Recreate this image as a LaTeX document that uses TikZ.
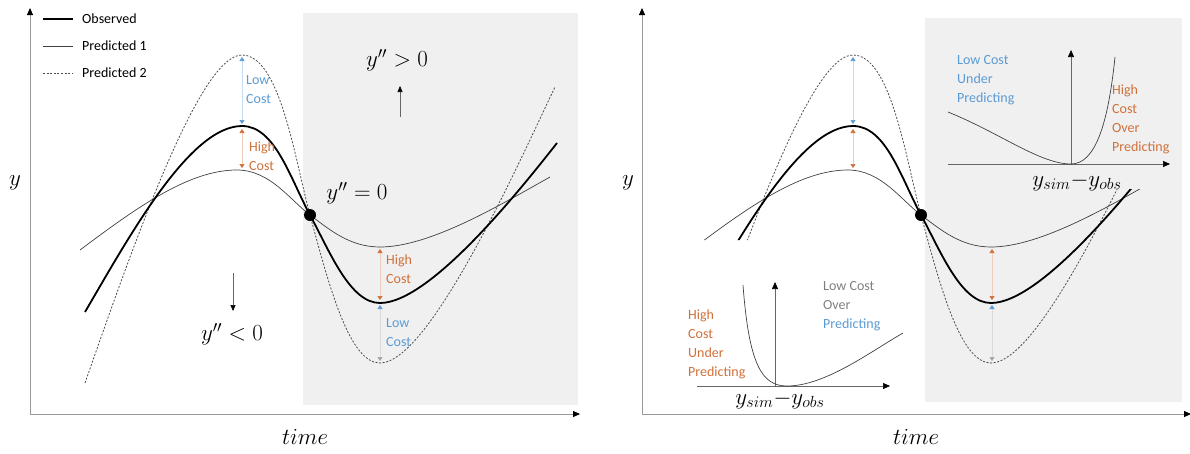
\RequirePackage{fix-cm}
\documentclass[tikz,border=0pt]{standalone}
\usepackage[no-math]{fontspec}
\setmainfont{Carlito}
\usepackage{tikz}
\usetikzlibrary{arrows.meta,positioning}

\definecolor{costhigh}{HTML}{D0703A}
\definecolor{costlow}{HTML}{5B9BD5}
\definecolor{panelgray}{HTML}{F0F0F0}
\definecolor{axisgray}{HTML}{9A9A9A}

% the three series (same shape in both panels)
\newcommand{\curveobs}{(85,312) .. controls (130,235) and (190,126) .. (242,126)
  .. controls (275,126) and (290,178) .. (310,215)
  .. controls (330,252) and (350,303) .. (380,303)
  .. controls (430,303) and (520,190) .. (557,143)}
\newcommand{\curveone}{(80,250) .. controls (140,205) and (190,170) .. (237,170)
  .. controls (270,170) and (290,200) .. (310,215)
  .. controls (330,230) and (350,247) .. (380,247)
  .. controls (430,247) and (500,205) .. (550,177)}
\newcommand{\curvetwo}{(85,383) .. controls (135,240) and (200,55) .. (242,55)
  .. controls (280,55) and (295,160) .. (310,215)
  .. controls (330,290) and (350,363) .. (380,363)
  .. controls (430,363) and (520,160) .. (555,87)}

\tikzset{
  obs/.style={line width=1.8pt, black},
  predone/.style={line width=0.7pt, black!75},
  predtwo/.style={line width=0.8pt, black!70, dash pattern=on 2pt off 1.6pt},
  axis/.style={draw=axisgray, line width=0.8pt, -{Triangle[length=7pt,width=6pt,color=black]}},
  insetaxis/.style={draw=black!60, line width=0.6pt, -{Triangle[length=7pt,width=6pt,color=black]}},
  thinarr/.style={draw=black!60, line width=0.6pt, -{Triangle[length=6pt,width=5pt,color=black]}},
  higharr/.style={line width=0.6pt, draw=costhigh!35,
    {Triangle[length=4pt,width=5pt,color=costhigh]}-{Triangle[length=4pt,width=5pt,color=costhigh]}},
  lowarr/.style={line width=0.6pt, draw=costlow!35,
    {Triangle[length=4pt,width=5pt,color=costlow]}-{Triangle[length=4pt,width=5pt,color=costlow]}},
  lowdownarr/.style={line width=0.6pt, draw=gray!30,
    {Triangle[length=4pt,width=5pt,color=costlow]}-{Triangle[length=4pt,width=5pt,color=gray!70]}},
  lbl/.style={font=\fontsize{14}{19}\selectfont, align=left, anchor=west, inner sep=0pt},
  legendlbl/.style={font=\fontsize{14}{16}\selectfont, anchor=west, inner sep=0pt},
  bigmath/.style={font=\fontsize{23}{26}\selectfont, inner sep=1pt},
  dot/.style={circle, fill=black, inner sep=0pt, minimum size=12pt},
}

\begin{document}
\begin{tikzpicture}[x=1pt, y=-1pt]
\useasboundingbox (0,0) rectangle (1190,453);

% shaded halves (y''>0)
\fill[panelgray] (303,13) rectangle (578,405);
\fill[panelgray] (925,18) rectangle (1182,402);

%%% left panel
\coordinate (lo) at (30,414);
\coordinate (ly) at (30,8);
\coordinate (lx) at (580,414);
\draw[axis] (lo) -- (ly);
\draw[axis] (lo) -- (lx);
\node[bigmath] (lylab) at (15,183) {$y$};
\node[bigmath] (lxlab) at (305,437) {$time$};

% legend
\coordinate (lg1a) at (43,19); \coordinate (lg1b) at (73,19);
\coordinate (lg2a) at (43,46); \coordinate (lg2b) at (73,46);
\coordinate (lg3a) at (43,73); \coordinate (lg3b) at (73,73);
\draw[obs] (lg1a) -- (lg1b);
\draw[predone] (lg2a) -- (lg2b);
\draw[predtwo] (lg3a) -- (lg3b);
\node[legendlbl, right=9pt of lg1b] (lgobs) {Observed};
\node[legendlbl, right=9pt of lg2b] (lgpone) {Predicted 1};
\node[legendlbl, right=9pt of lg3b] (lgptwo) {Predicted 2};

% curves
\draw[predtwo] \curvetwo;
\draw[predone] \curveone;
\draw[obs] \curveobs;
\node[dot] (ldot) at (310,215) {};
\node[bigmath] (lzero) at (357,193) {$y''=0$};

% cost arrows at the peak
\coordinate (lpktwo) at (242,57);
\coordinate (lpkobsa) at (242,124);
\coordinate (lpkobsb) at (242,129);
\coordinate (lpkone) at (242,168);
\draw[lowarr] (lpktwo) -- (lpkobsa);
\draw[higharr] (lpkobsb) -- (lpkone);
\node[lbl, text=costlow] (llowtop) at (246,90) {Low\\Cost};
\node[lbl, text=costhigh] (lhightop) at (249,156) {High\\Cost};

% cost arrows at the trough
\coordinate (lmnone) at (380,249);
\coordinate (lmnobsa) at (380,300);
\coordinate (lmnobsb) at (380,305);
\coordinate (lmntwo) at (380,361);
\draw[higharr] (lmnone) -- (lmnobsa);
\draw[lowdownarr] (lmnobsb) -- (lmntwo);
\node[lbl, text=costhigh] (lhighbot) at (386,269) {High\\Cost};
\node[lbl, text=costlow] (llowbot) at (386,333) {Low\\Cost};

% curvature marks
\node[bigmath] (lpos) at (397,60) {$y''>0$};
\coordinate (lposfoot) at (400,117);
\coordinate (lpostip) at (400,86);
\draw[thinarr] (lposfoot) -- (lpostip);
\node[bigmath] (lneg) at (232,334) {$y''<0$};
\coordinate (lnegtop) at (233,273);
\coordinate (lnegtip) at (233,311);
\draw[thinarr] (lnegtop) -- (lnegtip);

%%% right panel
\begin{scope}[shift={(611,0)}]
\coordinate (ro) at (31,414);
\coordinate (ry) at (31,8);
\coordinate (rx) at (580,414);
\draw[axis] (ro) -- (ry);
\draw[axis] (ro) -- (rx);
\node[bigmath] (rylab) at (17,183) {$y$};
\node[bigmath] (rxlab) at (305,437) {$time$};

% same curves, cut short at both ends
\begin{scope}
\clip (60,0) -- (470,0) -- (470,189) -- (600,189) -- (600,420) -- (200,420) -- (200,240) -- (60,240) -- cycle;
\draw[predtwo] \curvetwo;
\draw[predone] \curveone;
\draw[obs] \curveobs;
\end{scope}
\node[dot] (rdot) at (310,215) {};

\coordinate (rpktwo) at (242,57);
\coordinate (rpkobsa) at (242,124);
\coordinate (rpkobsb) at (242,129);
\coordinate (rpkone) at (242,168);
\draw[lowarr] (rpktwo) -- (rpkobsa);
\draw[higharr] (rpkobsb) -- (rpkone);

\coordinate (rmnone) at (381,249);
\coordinate (rmnobsa) at (381,300);
\coordinate (rmnobsb) at (381,305);
\coordinate (rmntwo) at (381,361);
\draw[higharr] (rmnone) -- (rmnobsa);
\draw[lowdownarr] (rmnobsb) -- (rmntwo);
\end{scope}

% inset: cost of the error, lower left
\coordinate (iao) at (775,386);
\coordinate (iay) at (775,282);
\coordinate (iaxl) at (697,386);
\coordinate (iax) at (890,386);
\draw[insetaxis] (iaxl) -- (iax);
\draw[insetaxis] (iao) -- (iay);
\draw[predone] (743,285) .. controls (749,365) and (762,386) .. (787,386) .. controls (825,386) and (870,352) .. (903,333);
\node[lbl, text=costhigh] (iahigh) at (688,344) {High\\Cost\\Under\\Predicting};
\node[lbl] (ialow) at (823,306) {\textcolor{gray}{Low Cost}\\\textcolor{gray}{Over}\\\textcolor{costlow}{Predicting}};
\node[bigmath] (iaxlab) at (780,400) {$y_{sim}{-}y_{obs}$};

% inset: cost of the error, upper right
\coordinate (ibo) at (1071,164);
\coordinate (iby) at (1071,50);
\coordinate (ibxl) at (948,164);
\coordinate (ibx) at (1170,164);
\draw[insetaxis] (ibxl) -- (ibx);
\draw[insetaxis] (ibo) -- (iby);
\draw[predone] (948,112) .. controls (1000,133) and (1040,164) .. (1071,164) .. controls (1095,164) and (1108,125) .. (1115,57);
\node[lbl, text=costlow] (iblow) at (957,80) {Low Cost\\Under\\Predicting};
\node[lbl, text=costhigh] (ibhigh) at (1112,119) {High\\Cost\\Over\\Predicting};
\node[bigmath] (ibxlab) at (1077,182) {$y_{sim}{-}y_{obs}$};
\end{tikzpicture}
\end{document}
